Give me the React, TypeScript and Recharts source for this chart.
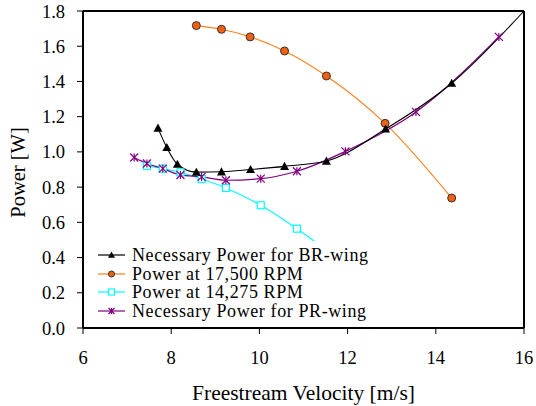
import { LineChart, Line, XAxis, YAxis, ReferenceLine, Legend } from "recharts";

const FONT = '"Liberation Serif", "Times New Roman", serif';

// Necessary Power for BR-wing (black triangles)
const brX = [7.7, 7.9, 8.14, 8.57, 9.14, 9.8, 10.57, 11.52, 12.86, 14.36, 16.0];
const brY = [1.135, 1.025, 0.93, 0.885, 0.887, 0.9, 0.918, 0.948, 1.13, 1.39, 1.8];

// Power at 17,500 RPM (orange circles)
const rpm17X = [8.57, 9.14, 9.79, 10.57, 11.52, 12.85, 14.36];
const rpm17Y = [1.717, 1.696, 1.653, 1.573, 1.431, 1.162, 0.738];

// Power at 14,275 RPM (cyan squares), last point sits under the legend
const rpm14X = [7.45, 7.81, 8.21, 8.69, 9.24, 10.03, 10.85, 11.7];
const rpm14Y = [0.92, 0.905, 0.884, 0.846, 0.795, 0.697, 0.564, 0.41];

// Necessary Power for PR-wing (purple asterisks)
const prX = [7.16, 7.45, 7.81, 8.21, 8.69, 9.24, 10.03, 10.85, 11.95, 13.55, 15.43];
const prY = [0.968, 0.934, 0.905, 0.869, 0.858, 0.839, 0.848, 0.89, 1.003, 1.227, 1.653];

const xTicks = [6, 8, 10, 12, 14, 16];
const yTicks = [0, 0.2, 0.4, 0.6, 0.8, 1.0, 1.2, 1.4, 1.6, 1.8];

const toPoints = (xs: number[], ys: number[]) => xs.map((x, i) => ({ x, v: ys[i] }));

const brData = toPoints(brX, brY);
const rpm17Data = toPoints(rpm17X, rpm17Y);
const rpm14Data = toPoints(rpm14X, rpm14Y);
const prData = toPoints(prX, prY);

const C = { br: "#000000", o: "#FF7F1E", oDot: "#F06010", cyan: "#00FFFF", pr: "#800080" };

const Tri = ({ cx, cy, s = 4.5 }: any) => (
  <path d={`M${cx},${cy - s}L${cx + s},${cy + s * 0.8}L${cx - s},${cy + s * 0.8}Z`} fill={C.br} />
);
const Circ = ({ cx, cy, s = 4 }: any) => <circle cx={cx} cy={cy} r={s} fill={C.oDot} stroke="#333" strokeWidth={1} />;
const Sq = ({ cx, cy, s = 3.5 }: any) => (
  <rect x={cx - s} y={cy - s} width={s * 2} height={s * 2} fill="#fff" stroke={C.cyan} strokeWidth={1.2} />
);
const Star = ({ cx, cy, s = 4 }: any) => (
  <g stroke={C.pr} strokeWidth={1.2}>
    <line x1={cx - s} y1={cy - s} x2={cx + s} y2={cy + s} />
    <line x1={cx - s} y1={cy + s} x2={cx + s} y2={cy - s} />
    <line x1={cx} y1={cy - s} x2={cx} y2={cy + s} />
  </g>
);

const legendItems = [
  { name: "Necessary Power for BR-wing", color: C.br, Mark: Tri },
  { name: "Power at 17,500 RPM", color: C.o, Mark: Circ },
  { name: "Power at 14,275 RPM", color: C.cyan, Mark: Sq },
  { name: "Necessary Power for PR-wing", color: C.pr, Mark: Star },
];

const LegendBox = () => (
  <div style={{ background: "#fff", padding: "5px 0 4px 3px", fontFamily: FONT, fontSize: 18, letterSpacing: 0.6, color: "#000" }}>
    {legendItems.map(({ name, color, Mark }) => (
      <div key={name} style={{ display: "flex", alignItems: "center", height: 18.5, lineHeight: "18px", whiteSpace: "nowrap" }}>
        <svg width={31} height={12} style={{ marginRight: 3 }}>
          <line x1={0} y1={6} x2={27} y2={6} stroke={color} strokeWidth={1.2} />
          <Mark cx={13.5} cy={6} s={name.includes("BR") ? 3.5 : 3} />
        </svg>
        <span>{name}</span>
      </div>
    ))}
  </div>
);

const dotFn = (Mark: any, hideLast = 0) => (props: any) => {
  const { cx, cy, index } = props;
  if (hideLast && index === hideLast) return <g key={`d-${index}`} />;
  return <Mark key={`d-${index}`} cx={cx} cy={cy} />;
};

export default function App() {
  return (
    <div style={{ position: "absolute", left: 0, top: 0, width: 536, height: 406, background: "#fff" }}>
      <LineChart width={536} height={406} margin={{ top: 11, right: 12, left: 0, bottom: 18 }}>
        <XAxis
          dataKey="x"
          type="number"
          domain={[6, 16]}
          ticks={xTicks}
          allowDuplicatedCategory={false}
          height={60}
          stroke="#000"
          strokeWidth={2}
          tickSize={6}
          tickMargin={17}
          tick={{ fill: "#000", fontSize: 18.5, fontFamily: FONT }}
          tickLine={{ stroke: "#000", strokeWidth: 1 }}
          label={{
            content: ({ viewBox }: any) => (
              <text x={viewBox.x + viewBox.width / 2} y={400} textAnchor="middle" fontFamily={FONT} fontSize={21.5} fill="#000">
                Freestream Velocity [m/s]
              </text>
            ),
          }}
        />
        <YAxis
          type="number"
          domain={[0, 1.8]}
          ticks={yTicks}
          width={83}
          stroke="#000"
          strokeWidth={2}
          tickSize={6}
          tickMargin={12}
          tickFormatter={(v: number) => v.toFixed(1)}
          tick={{ fill: "#000", fontSize: 18.5, fontFamily: FONT }}
          tickLine={{ stroke: "#000", strokeWidth: 1 }}
          label={{
            content: ({ viewBox }: any) => {
              const cy = viewBox.y + viewBox.height / 2 + 3;
              return (
                <text x={25} y={cy} transform={`rotate(-90, 25, ${cy})`} textAnchor="middle" fontFamily={FONT} fontSize={20.5} fill="#000">
                  Power [W]
                </text>
              );
            },
          }}
        />
        <ReferenceLine y={1.8} stroke="#000" strokeWidth={2} />
        <ReferenceLine x={16} stroke="#000" strokeWidth={2} />
        <Line data={rpm14Data} dataKey="v" type="monotone" stroke={C.cyan} strokeWidth={1.2} dot={dotFn(Sq)} activeDot={false} isAnimationActive={false} />
        <Line data={rpm17Data} dataKey="v" type="monotone" stroke={C.o} strokeWidth={1.1} dot={dotFn(Circ)} activeDot={false} isAnimationActive={false} />
        <Line data={prData} dataKey="v" type="monotone" stroke={C.pr} strokeWidth={1.2} dot={dotFn(Star)} activeDot={false} isAnimationActive={false} />
        <Line data={brData} dataKey="v" type="monotone" stroke={C.br} strokeWidth={1.1} dot={dotFn(Tri, brData.length - 1)} activeDot={false} isAnimationActive={false} />
        <Legend
          layout="vertical"
          align="center"
          verticalAlign="middle"
          content={<LegendBox />}
          wrapperStyle={{ left: 95, top: 241, width: 285, bottom: "auto", right: "auto" }}
        />
      </LineChart>
    </div>
  );
}
